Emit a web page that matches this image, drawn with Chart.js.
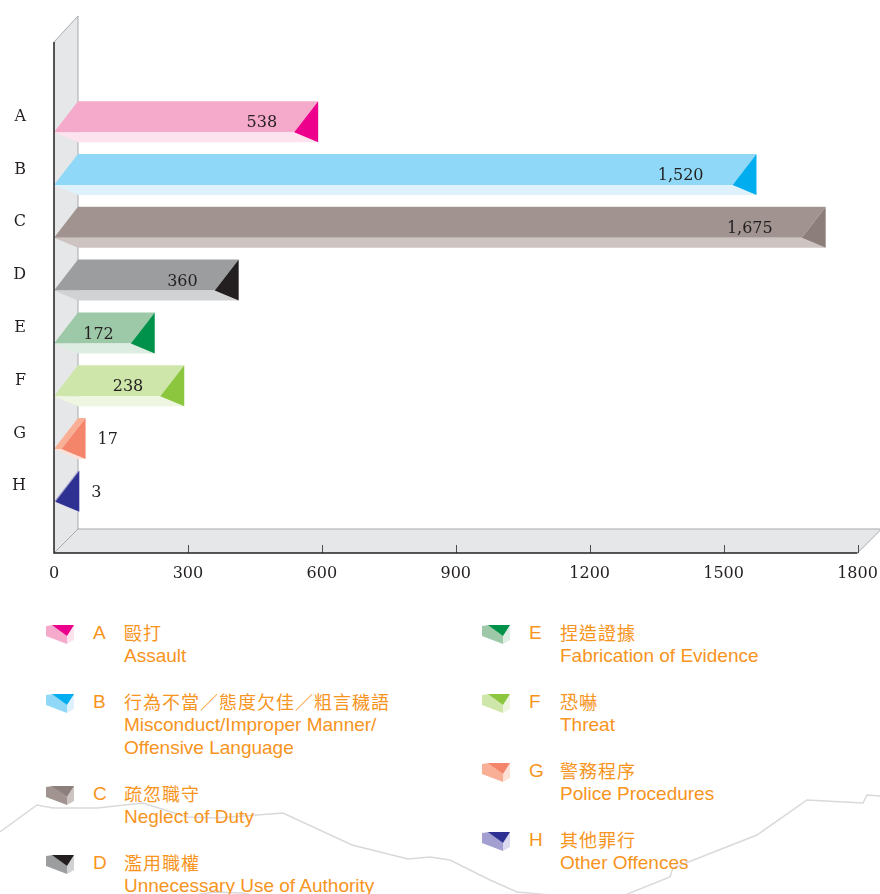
<!DOCTYPE html>
<html>
<head>
<meta charset="utf-8">
<script src="https://cdn.jsdelivr.net/npm/chart.js@4.4.1/dist/chart.umd.min.js"></script>
<style>
  body { margin: 0; background: #fff; width: 880px; height: 894px; position: relative; overflow: hidden; }
  #deco { position: absolute; left: 0; top: 0; }
  #chart { position: absolute; left: 0; top: 0; }
  .item { position: absolute; color: #f7941d; font-family: "Liberation Sans", Arial, sans-serif; font-size: 19px; line-height: 23px; white-space: nowrap; }
  .item svg { position: absolute; left: 0; top: 4px; }
  .item .code { position: absolute; left: 47px; top: 0; }
  .item .zh { margin-left: 78px; font-family: "Noto Sans CJK TC", sans-serif; font-size: 18px; letter-spacing: 1px; }
  .item .en { margin-left: 78px; }
</style>
</head>
<body>
<svg id="deco" width="880" height="894">
  <polyline fill="none" stroke="#d9d9d9" stroke-width="1.5"
    points="0,832 37,805 53,808 97,808 143,803 187,817 217,818 283,813 352,845 408,859 430,857 450,860 490,880 517,892 550,895" />
  <polyline fill="none" stroke="#d9d9d9" stroke-width="1.5"
    points="625,895 670,877 673,868 757,835 807,800 863,803 867,795 880,796" />
  <polyline fill="none" stroke="#d9d9d9" stroke-width="1.5"
    points="195,895 214,892 242,893 252,895" />
</svg>
<canvas id="chart" width="880" height="600"></canvas>
<div id="legend"></div>
<script>
// 類別與數值
const categories = ["A", "B", "C", "D", "E", "F", "G", "H"];
const complaints = [538, 1520, 1675, 360, 172, 238, 17, 3];
const xTicks = [0, 300, 600, 900, 1200, 1500, 1800];

const zhNames = ["毆打", "行為不當／態度欠佳／粗言穢語", "疏忽職守", "濫用職權", "捏造證據", "恐嚇", "警務程序", "其他罪行"];
const enNames = [
  ["Assault"],
  ["Misconduct/Improper Manner/", "Offensive Language"],
  ["Neglect of Duty"],
  ["Unnecessary Use of Authority"],
  ["Fabrication of Evidence"],
  ["Threat"],
  ["Police Procedures"],
  ["Other Offences"],
];

// 每條柱的三個面：頂面、前面（淺色）、末端三角
const topColors = ["#f5a9cb", "#8fd8f7", "#a19390", "#9c9d9f", "#9dc9a8", "#cfe6ab", "#f9ae96", "#a39fd0"];
const frontColors = ["#fde3ee", "#dff2fb", "#cdc3c1", "#d1d2d4", "#deede2", "#eef6e1", "#fde0d6", "#dcdaf0"];
const endColors = ["#ec008c", "#00adee", "#8c7f7b", "#231f20", "#00924a", "#8cc63e", "#f5856a", "#2e3192"];

const DX = 24; // 立體深度

function poly(ctx, pts, fill) {
  ctx.beginPath();
  ctx.moveTo(pts[0][0], pts[0][1]);
  for (let i = 1; i < pts.length; i++) ctx.lineTo(pts[i][0], pts[i][1]);
  ctx.closePath();
  ctx.fillStyle = fill;
  ctx.fill();
}

function line(ctx, x1, y1, x2, y2) {
  ctx.beginPath();
  ctx.moveTo(x1, y1);
  ctx.lineTo(x2, y2);
  ctx.stroke();
}

const frame3d = {
  id: "frame3d",
  beforeDatasetsDraw(chart) {
    const { ctx, chartArea: a, scales } = chart;
    const L = a.left, R = a.right;
    const topY = a.top - 48.3, floorY = a.bottom + 40.3;
    ctx.save();
    // 左牆與地台
    poly(ctx, [[L, topY], [L + DX, topY - 26], [L + DX, floorY - 24], [L, floorY]], "#e6e7e8");
    poly(ctx, [[L, floorY], [R, floorY], [R + DX, floorY - 24], [L + DX, floorY - 24]], "#e6e7e8");
    ctx.strokeStyle = "#a7a9ac";
    ctx.lineWidth = 1;
    line(ctx, L + DX, topY - 26, L + DX, floorY - 24);
    line(ctx, L + DX, floorY - 24, R + DX, floorY - 24);
    line(ctx, L, topY, L + DX, topY - 26);
    line(ctx, L, floorY, L + DX, floorY - 24);
    line(ctx, R, floorY, R + DX, floorY - 24);
    // 刻度
    ctx.strokeStyle = "#4d4d4f";
    xTicks.forEach((v) => {
      if (v === 0) return;
      const px = Math.round(scales.x.getPixelForValue(v)) + 0.5;
      line(ctx, px, floorY, px, floorY - 8);
    });
    ctx.restore();
  },
  afterDatasetsDraw(chart) {
    const { ctx, chartArea: a } = chart;
    const meta = chart.getDatasetMeta(0);
    ctx.save();
    meta.data.forEach((el, i) => {
      const xv = el.x, base = el.base;
      const front = el.y + 15.5, top = front - 31, bot = front + 10;
      poly(ctx, [[base, front], [base + DX, top], [xv + DX, top], [xv, front]], topColors[i]);
      poly(ctx, [[base, front], [xv, front], [xv + DX, bot], [base + DX, bot]], frontColors[i]);
      poly(ctx, [[xv + DX, top], [xv + DX, bot], [xv, front]], endColors[i]);

      const v = complaints[i];
      ctx.font = "16px 'DejaVu Serif'";
      ctx.fillStyle = "#231f20";
      ctx.textBaseline = "middle";
      const txt = v.toLocaleString("en-US");
      if (v >= 100) {
        ctx.textAlign = "right";
        ctx.fillText(txt, xv - (v >= 1000 ? 29 : 17), front - 9);
      } else {
        ctx.textAlign = "left";
        ctx.fillText(txt, xv + DX + 12, front - 9);
      }
    });
    // 前方軸線
    const topY = a.top - 48.3, floorY = a.bottom + 40.3;
    ctx.strokeStyle = "#231f20";
    ctx.lineWidth = 1.5;
    ctx.beginPath();
    ctx.moveTo(a.left, topY);
    ctx.lineTo(a.left, floorY);
    ctx.lineTo(a.right, floorY);
    ctx.stroke();
    ctx.restore();
  },
};

new Chart(document.getElementById("chart").getContext("2d"), {
  type: "bar",
  data: {
    labels: categories,
    datasets: [{
      data: complaints,
      backgroundColor: "rgba(0,0,0,0)",
      borderWidth: 0,
      categoryPercentage: 1,
      barPercentage: 1,
    }],
  },
  options: {
    indexAxis: "y",
    responsive: false,
    animation: false,
    devicePixelRatio: 1,
    layout: { padding: { top: 90.3, right: 22.5, left: 0, bottom: 0 } },
    plugins: { legend: { display: false }, tooltip: { enabled: false } },
    scales: {
      x: {
        min: 0,
        max: 1800,
        afterBuildTicks: (s) => { s.ticks = xTicks.map((v) => ({ value: v })); },
        afterFit: (s) => {
          s.height = 600 - 512.7;
          s.paddingLeft = 0;
          s.paddingRight = 0;
        },
        grid: { display: false, drawTicks: false },
        border: { display: false },
        ticks: {
          font: { family: "DejaVu Serif", size: 16 },
          color: "#231f20",
          padding: 52,
          maxRotation: 0,
          callback: (v) => String(v),
        },
      },
      y: {
        afterFit: (s) => {
          s.width = 54;
          s.paddingTop = 0;
          s.paddingBottom = 0;
        },
        grid: { display: false, drawTicks: false },
        border: { display: false },
        ticks: { font: { family: "DejaVu Serif", size: 16 }, color: "#231f20", padding: 28 },
      },
    },
  },
  plugins: [frame3d],
});

// 圖例
function icon(i) {
  return '<svg width="28" height="20" viewBox="0 0 28 20">' +
    '<polygon points="0,1 7,0 21,11 21,19 0,11" fill="' + topColors[i] + '"/>' +
    '<polygon points="21,11 28,0 28,15 21,19" fill="' + frontColors[i] + '"/>' +
    '<polygon points="6,0 28,0 21,11" fill="' + endColors[i] + '"/>' +
    '</svg>';
}

const legend = document.getElementById("legend");
let tops = [620.5, 621];
categories.forEach((c, i) => {
  const col = i < 4 ? 0 : 1;
  const div = document.createElement("div");
  div.className = "item";
  div.style.left = (col === 0 ? 46 : 482) + "px";
  div.style.top = tops[col] + "px";
  div.innerHTML = icon(i) + '<span class="code">' + c + "</span>" +
    '<div class="zh">' + zhNames[i] + "</div>" +
    enNames[i].map((t) => '<div class="en">' + t + "</div>").join("");
  legend.appendChild(div);
  tops[col] += (enNames[i].length + 1) * 23 + 23;
});
</script>
</body>
</html>
